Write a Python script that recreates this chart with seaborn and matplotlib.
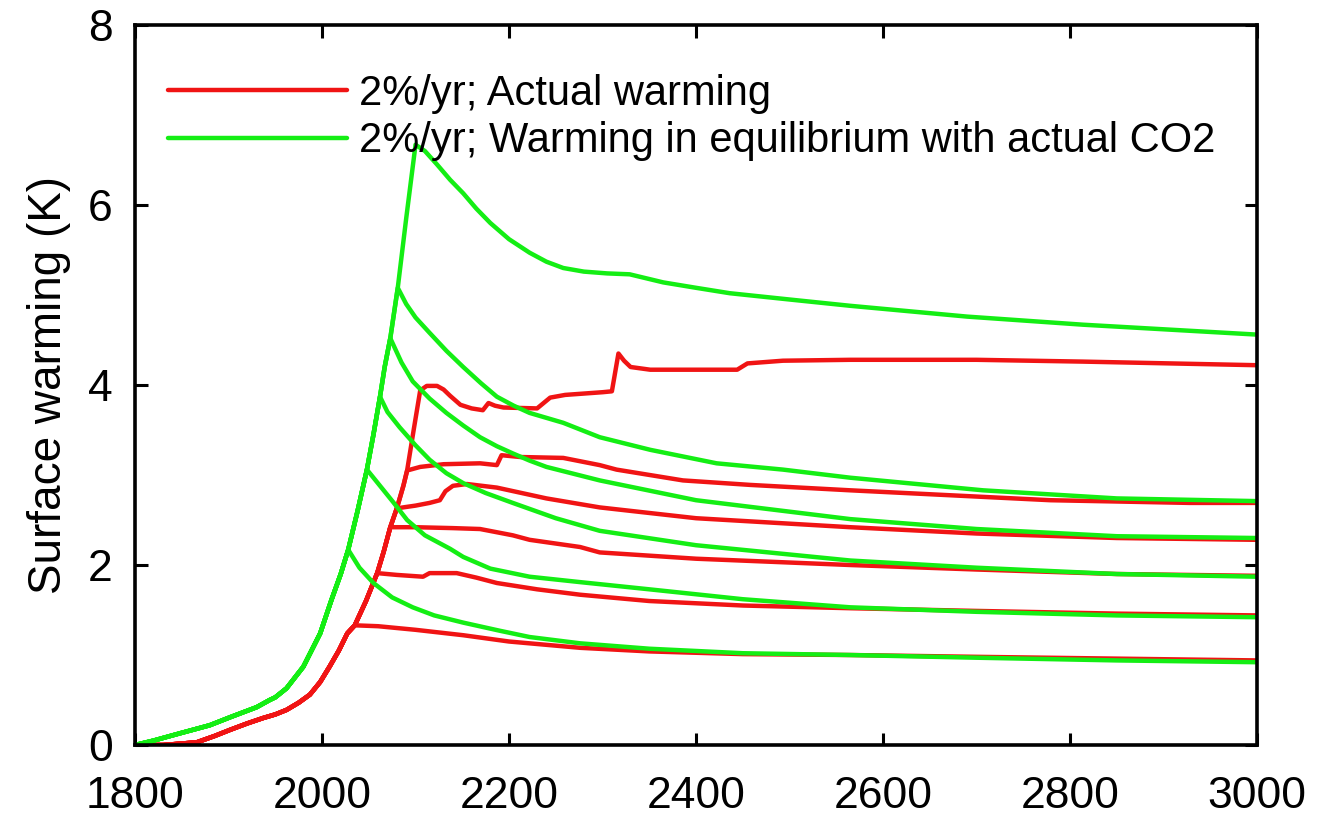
import numpy as np
import pandas as pd
import matplotlib
matplotlib.use('Agg')
import matplotlib.pyplot as plt
import seaborn as sns

# Shared rise of the curves before the branches leave it
ramp_green_year = [1800, 1820, 1848, 1880, 1902, 1930, 1944, 1950, 1962, 1980, 1998, 2010,
                   2020, 2028, 2038, 2048, 2055, 2062, 2067, 2073, 2081, 2090, 2100]
ramp_green_warm = [0.0, 0.05, 0.13, 0.22, 0.31, 0.42, 0.50, 0.53, 0.63, 0.87, 1.24, 1.61,
                   1.90, 2.17, 2.60, 3.06, 3.45, 3.87, 4.20, 4.52, 5.08, 5.85, 6.67]
ramp_red_year = [1800, 1830, 1866, 1885, 1902, 1920, 1937, 1950, 1962, 1975, 1987, 1998,
                 2008, 2018, 2027, 2035, 2047, 2059, 2066, 2073, 2080, 2087, 2091, 2098, 2105]
ramp_red_warm = [0.0, 0.0, 0.03, 0.10, 0.17, 0.24, 0.30, 0.34, 0.39, 0.47, 0.56, 0.70,
                 0.87, 1.05, 1.24, 1.33, 1.60, 1.91, 2.15, 2.42, 2.63, 2.88, 3.05, 3.50, 3.94]

# Branches (one per emission-stop scenario), equilibrium warming
green_years = [
    [2100, 2110, 2123, 2137, 2151, 2165, 2180, 2200, 2222, 2240, 2258, 2280, 2305, 2329, 2365,
     2400, 2436, 2500, 2565, 2690, 2814, 3000],
    [2081, 2090, 2100, 2115, 2133, 2151, 2170, 2187, 2205, 2222, 2258, 2297, 2351, 2422, 2493,
     2565, 2707, 2850, 3000],
    [2073, 2085, 2097, 2115, 2133, 2151, 2169, 2187, 2204, 2222, 2240, 2297, 2400, 2565, 2700,
     2850, 3000],
    [2062, 2070, 2083, 2100, 2115, 2133, 2151, 2175, 2204, 2250, 2297, 2400, 2565, 2700, 2850,
     3000],
    [2048, 2062, 2076, 2091, 2110, 2137, 2151, 2180, 2222, 2276, 2350, 2450, 2565, 2700, 2850,
     3000],
    [2028, 2040, 2055, 2075, 2097, 2120, 2151, 2190, 2222, 2276, 2350, 2450, 2565, 2700, 2850,
     3000],
]
green_warm = [
    [6.67, 6.60, 6.45, 6.28, 6.13, 5.96, 5.80, 5.62, 5.47, 5.37, 5.30, 5.26, 5.24, 5.23, 5.14,
     5.08, 5.02, 4.95, 4.88, 4.76, 4.67, 4.56],
    [5.08, 4.90, 4.75, 4.58, 4.38, 4.20, 4.02, 3.87, 3.77, 3.69, 3.58, 3.42, 3.28, 3.13, 3.06,
     2.97, 2.83, 2.74, 2.71],
    [4.52, 4.25, 4.04, 3.85, 3.69, 3.55, 3.42, 3.32, 3.24, 3.16, 3.09, 2.94, 2.72, 2.51, 2.40,
     2.32, 2.30],
    [3.87, 3.70, 3.53, 3.33, 3.17, 3.02, 2.91, 2.80, 2.69, 2.52, 2.38, 2.22, 2.05, 1.97, 1.90,
     1.87],
    [3.06, 2.88, 2.70, 2.50, 2.33, 2.18, 2.09, 1.96, 1.87, 1.81, 1.73, 1.62, 1.53, 1.48, 1.44,
     1.42],
    [2.17, 1.97, 1.80, 1.64, 1.53, 1.44, 1.36, 1.27, 1.20, 1.13, 1.07, 1.02, 1.00, 0.97, 0.94,
     0.92],
]

# Branches, actual warming
red_years = [
    [2105, 2112, 2123, 2130, 2137, 2148, 2160, 2172, 2178, 2185, 2194, 2230, 2237, 2244, 2260,
     2300, 2310, 2317, 2323, 2330, 2351, 2444, 2455, 2493, 2565, 2700, 2814, 3000],
    [2091, 2105, 2130, 2169, 2187, 2192, 2212, 2258, 2297, 2315, 2386, 2458, 2565, 2779, 2928,
     3000],
    [2080, 2100, 2115, 2126, 2132, 2140, 2155, 2187, 2240, 2297, 2400, 2565, 2700, 2850, 3000],
    [2073, 2100, 2140, 2169, 2204, 2222, 2276, 2297, 2400, 2565, 2700, 2850, 3000],
    [2059, 2080, 2108, 2115, 2144, 2165, 2187, 2230, 2276, 2350, 2450, 2565, 2700, 2850, 3000],
    [2035, 2060, 2100, 2151, 2200, 2276, 2350, 2450, 2565, 2700, 2850, 3000],
]
red_warm = [
    [3.94, 3.99, 3.99, 3.95, 3.88, 3.78, 3.74, 3.72, 3.80, 3.77, 3.75, 3.74, 3.80, 3.86, 3.89,
     3.92, 3.93, 4.35, 4.27, 4.20, 4.17, 4.17, 4.24, 4.27, 4.28, 4.28, 4.26, 4.22],
    [3.05, 3.09, 3.12, 3.13, 3.11, 3.22, 3.20, 3.19, 3.11, 3.06, 2.94, 2.89, 2.83, 2.72, 2.69,
     2.69],
    [2.63, 2.66, 2.69, 2.72, 2.82, 2.88, 2.90, 2.86, 2.74, 2.64, 2.52, 2.42, 2.35, 2.30, 2.28],
    [2.42, 2.42, 2.41, 2.40, 2.33, 2.28, 2.20, 2.14, 2.07, 2.00, 1.95, 1.90, 1.88],
    [1.91, 1.89, 1.87, 1.91, 1.91, 1.86, 1.80, 1.73, 1.67, 1.60, 1.55, 1.52, 1.49, 1.46, 1.44],
    [1.33, 1.32, 1.28, 1.22, 1.15, 1.08, 1.04, 1.01, 1.00, 0.98, 0.96, 0.94],
]

label_red = '2%/yr; Actual warming'
label_green = '2%/yr; Warming in equilibrium with actual CO2'

# Build long table: each scenario = ramp up to its stop year + its branch
rows = []
for kind, ry, rw, bys, bws in [(label_red, ramp_red_year, ramp_red_warm, red_years, red_warm),
                               (label_green, ramp_green_year, ramp_green_warm, green_years, green_warm)]:
    for i, (by, bw) in enumerate(zip(bys, bws)):
        pre = [(y, w) for y, w in zip(ry, rw) if y < by[0]]
        for y, w in pre + list(zip(by, bw)):
            rows.append({'year': y, 'warming': w, 'kind': kind, 'scenario': i})
df = pd.DataFrame(rows)

sns.set_style('ticks')
plt.rcParams['font.family'] = ['Liberation Sans', 'DejaVu Sans']
plt.rcParams['text.color'] = 'black'
plt.rcParams['axes.labelcolor'] = 'black'
plt.rcParams['xtick.color'] = 'black'
plt.rcParams['ytick.color'] = 'black'

fig = plt.figure(figsize=(13.2, 8.17), dpi=100)
ax = fig.add_axes([0.1023, 0.0881, 0.8500, 0.8813])

sns.lineplot(data=df, x='year', y='warming', hue='kind', units='scenario', estimator=None,
             hue_order=[label_red, label_green],
             palette={label_red: '#f01414', label_green: '#14ee14'},
             linewidth=3.2, sort=False, ax=ax)

ax.set_xlim(1800, 3000)
ax.set_ylim(0, 8)
ax.set_xticks(np.arange(1800, 3001, 200))
ax.set_yticks(np.arange(0, 9, 2))
ax.set_xlabel('')
ax.set_ylabel('Surface warming (K)', fontsize=33, labelpad=12)
ax.tick_params(direction='in', top=True, right=True, length=9, width=2.2, labelsize=32)
ax.tick_params(axis='x', pad=22)
ax.tick_params(axis='y', pad=16)
for s in ax.spines.values():
    s.set_linewidth(2.6)
    s.set_color('black')

old = ax.get_legend()
handles = old.legend_handles
labels = [t.get_text() for t in old.get_texts()]
old.remove()
ax.legend(handles, labels, loc='upper left', bbox_to_anchor=(0.029, 0.932), frameon=False,
          fontsize=30, handlelength=4.3, handletextpad=0.3, labelspacing=0.18,
          borderpad=0, borderaxespad=0)

fig.savefig('out.png', dpi=100)
